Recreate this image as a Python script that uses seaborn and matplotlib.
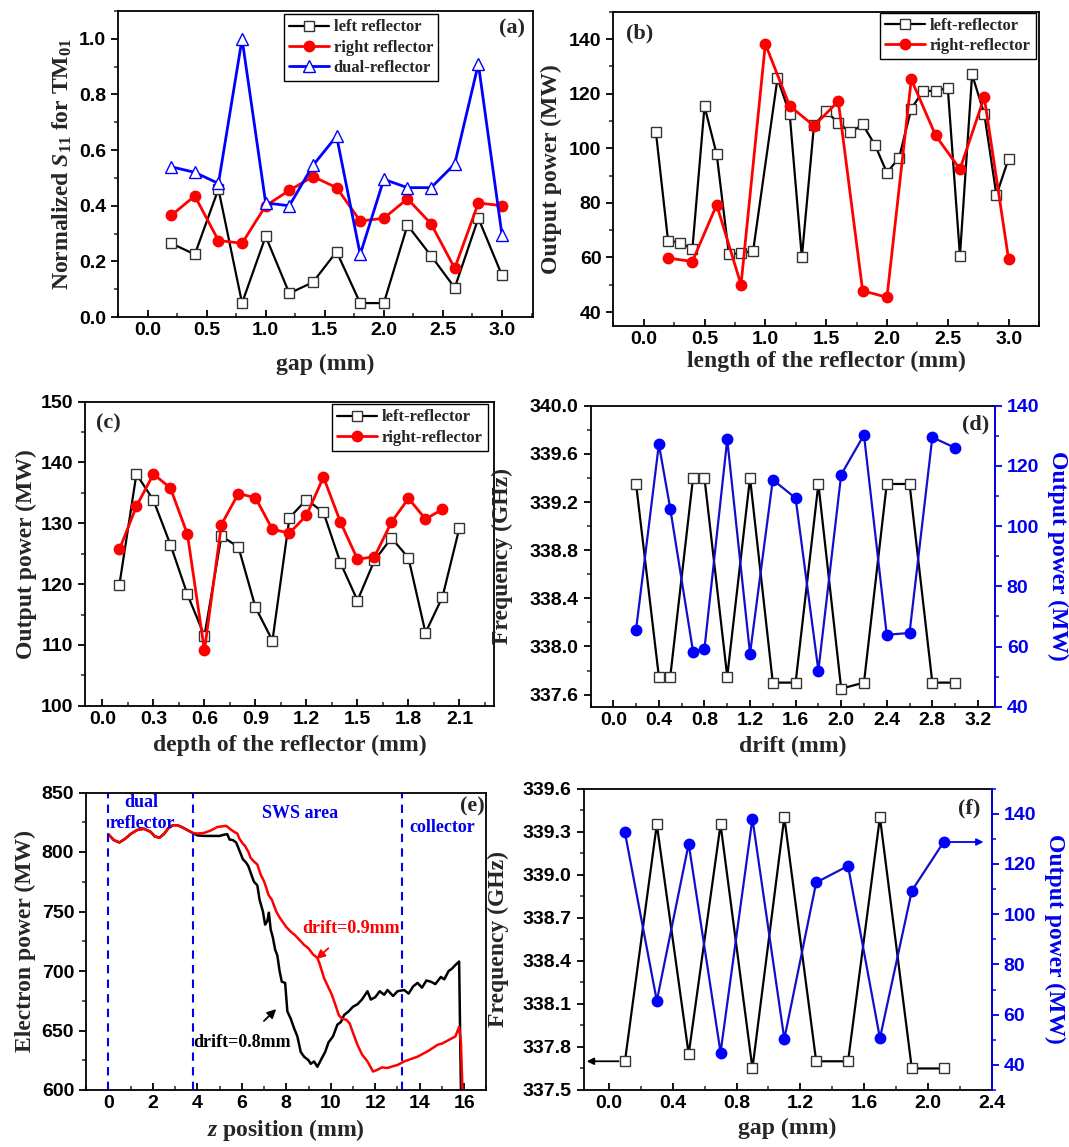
import matplotlib
matplotlib.use("Agg")
import matplotlib.pyplot as plt
from matplotlib.ticker import MultipleLocator, FormatStrFormatter
import seaborn as sns

# ---------------- data ----------------
# (a) normalized S11 vs gap
gap_a = [0.2, 0.4, 0.6, 0.8, 1.0, 1.2, 1.4, 1.6, 1.8, 2.0, 2.2, 2.4, 2.6, 2.8, 3.0]
s11_left = [0.265, 0.225, 0.46, 0.05, 0.29, 0.085, 0.125, 0.235, 0.05, 0.05, 0.33, 0.22, 0.105, 0.355, 0.15]
s11_right = [0.365, 0.435, 0.275, 0.265, 0.40, 0.455, 0.505, 0.465, 0.345, 0.355, 0.425, 0.335, 0.175, 0.41, 0.40]
s11_dual = [0.54, 0.52, 0.48, 1.0, 0.41, 0.40, 0.545, 0.65, 0.225, 0.495, 0.465, 0.465, 0.55, 0.91, 0.295]

# (b) output power vs reflector length
len_left = [0.1, 0.2, 0.3, 0.4, 0.5, 0.6, 0.7, 0.8, 0.9, 1.1, 1.2, 1.3, 1.4, 1.5, 1.6, 1.7, 1.8,
            1.9, 2.0, 2.1, 2.2, 2.3, 2.4, 2.5, 2.6, 2.7, 2.8, 2.9, 3.0]
pow_len_left = [106, 66.2, 65.4, 63, 115.3, 97.8, 61.3, 61.5, 62.5, 125.6, 112.6, 60, 108.4, 113.5,
                109.3, 105.8, 108.7, 101.3, 91, 96.6, 114.5, 121.1, 120.9, 122.1, 60.6, 127, 112.6, 82.8, 96.2]
len_right = [0.2, 0.4, 0.6, 0.8, 1.0, 1.2, 1.4, 1.6, 1.8, 2.0, 2.2, 2.4, 2.6, 2.8, 3.0]
pow_len_right = [59.8, 58.5, 79.3, 50, 138.2, 115.5, 108.2, 117.2, 47.8, 45.4, 125.2, 104.7, 92.3, 118.7, 59.3]

# (c) output power vs reflector depth
depth_left = [0.1, 0.2, 0.3, 0.4, 0.5, 0.6, 0.7, 0.8, 0.9, 1.0, 1.1, 1.2, 1.3, 1.4, 1.5, 1.6, 1.7, 1.8, 1.9, 2.0, 2.1]
pow_depth_left = [119.9, 138.1, 133.8, 126.5, 118.3, 111.5, 127.9, 126.1, 116.2, 110.7, 130.9, 133.9,
                  131.8, 123.5, 117.3, 123.9, 127.6, 124.3, 112, 117.9, 129.3]
depth_right = [0.1, 0.2, 0.3, 0.4, 0.5, 0.6, 0.7, 0.8, 0.9, 1.0, 1.1, 1.2, 1.3, 1.4, 1.5, 1.6, 1.7, 1.8, 1.9, 2.0]
pow_depth_right = [125.7, 132.8, 138.1, 135.8, 128.2, 109.1, 129.8, 134.9, 134.2, 129, 128.4, 131.3,
                   137.6, 130.2, 124.1, 124.5, 130.2, 134.1, 130.7, 132.3]

# (d) frequency / power vs drift
drift = [0.2, 0.4, 0.5, 0.7, 0.8, 1.0, 1.2, 1.4, 1.6, 1.8, 2.0, 2.2, 2.4, 2.6, 2.8, 3.0]
freq_drift = [339.35, 337.75, 337.75, 339.4, 339.4, 337.75, 339.4, 337.70, 337.70, 339.35, 337.65,
              337.70, 339.35, 339.35, 337.70, 337.70]
pow_drift = [65.6, 127.2, 105.8, 58.3, 59.2, 128.8, 57.6, 115.4, 109.3, 52.0, 117.1, 130.3, 63.9, 64.5, 129.5, 126.0]

# (e) electron power along z
z_08 = [0.0, 0.25, 0.5, 0.75, 1.0, 1.3, 1.6, 1.9, 2.1, 2.3, 2.5, 2.7, 2.9, 3.1, 3.3, 3.6, 3.8,
        4.0, 4.3, 4.6, 5.0, 5.2, 5.35, 5.45, 5.6, 5.75, 5.9, 6.05, 6.2, 6.3, 6.45, 6.55, 6.7, 6.8,
        6.95, 7.05, 7.15, 7.22, 7.3, 7.4, 7.5, 7.6, 7.7, 7.8, 7.95, 8.05, 8.2, 8.35, 8.5, 8.65,
        8.8, 9.0, 9.1, 9.25, 9.4, 9.55, 9.75, 9.9, 10.1, 10.3, 10.45, 10.6, 10.8, 11.0, 11.2,
        11.4, 11.65, 11.8, 12.0, 12.2, 12.4, 12.55, 12.8, 13.0, 13.3, 13.5, 13.7, 13.9, 14.1,
        14.3, 14.5, 14.7, 14.95, 15.1, 15.3, 15.45, 15.6, 15.77, 15.85]
p_08 = [815, 810, 808, 811, 815, 818.5, 819.5, 817, 813, 812, 815, 820, 822.5, 822.5, 821, 818, 816,
        814, 813.5, 813.5, 813.5, 814.5, 815, 810.5, 810, 808, 801, 794, 791, 788, 780, 775, 772, 760,
        750, 739, 742, 749, 735, 728, 718, 713, 700, 691, 690, 666, 660, 652, 645, 632,
        628, 625, 622, 624, 619.5, 625, 632, 640, 645, 655, 657, 663, 666, 670, 672,
        676, 683, 676, 678, 683, 680, 684, 679, 683, 684, 681, 687, 690, 686,
        692, 691, 689, 695, 693, 700, 702, 705, 708, 600]
z_09 = [0.0, 0.25, 0.5, 0.75, 1.0, 1.3, 1.6, 1.9, 2.1, 2.3, 2.5, 2.7, 2.9, 3.1, 3.3, 3.6, 3.8,
        4.0, 4.3, 4.6, 4.9, 5.1, 5.3, 5.5, 5.65, 5.8, 5.9, 6.05, 6.15, 6.3, 6.4, 6.55, 6.7, 6.85,
        7.0, 7.1, 7.2, 7.35, 7.45, 7.55, 7.7, 7.85, 8.0, 8.2, 8.4, 8.6, 8.8, 9.0, 9.2, 9.4, 9.5,
        9.7, 9.85, 10.05, 10.2, 10.36, 10.5, 10.7, 10.85, 11.0, 11.2, 11.4, 11.65, 11.9, 12.1,
        12.3, 12.55, 12.8, 13.0, 13.3, 13.6, 13.9, 14.1, 14.4, 14.8, 15.0, 15.2, 15.4, 15.6,
        15.77, 15.85, 15.92]
p_09 = [815, 810, 808, 811, 815, 818.5, 819.5, 817, 813, 812, 815, 820, 822.5, 822.5, 821, 818, 816,
        815.5, 816, 818, 821, 821.5, 822, 819, 817, 815.5, 811, 807, 805, 800, 795, 792, 789.5, 781,
        775.5, 770, 764, 760, 755, 750, 745, 741, 737, 733, 730, 726, 722, 719, 714, 711, 706,
        694, 688, 680, 672, 663, 660, 659, 656, 648, 638, 630, 624, 615.5, 617,
        619, 618.5, 620, 621, 624, 626, 628, 630, 633, 638, 639, 641, 643, 645,
        653, 640, 600]
region_lines = [0.0, 3.8, 13.2]

# (f) frequency / power vs gap
gap_f = [0.1, 0.3, 0.5, 0.7, 0.9, 1.1, 1.3, 1.5, 1.7, 1.9, 2.1]
freq_gap = [337.70, 339.35, 337.75, 339.35, 337.65, 339.40, 337.70, 337.70, 339.40, 337.65, 337.65]
pow_gap = [132.5, 65.5, 128, 44.9, 138, 50.3, 112.6, 119.2, 50.6, 109.3, 128.7]

# ---------------- style ----------------
sns.set_style("ticks")
plt.rcParams["font.family"] = ["Liberation Sans", "DejaVu Sans"]
plt.rcParams["font.weight"] = "bold"
plt.rcParams["mathtext.fontset"] = "custom"
plt.rcParams["mathtext.rm"] = "Liberation Serif:bold"
plt.rcParams["mathtext.it"] = "Liberation Serif:italic:bold"
plt.rcParams["mathtext.bf"] = "Liberation Serif:bold"

BLUE = "#0000ee"
LBL = dict(family="Liberation Serif", weight="bold", size=17)
LEG = dict(family="Liberation Serif", weight="bold", size=12)
TAG = dict(family="Liberation Serif", weight="bold", size=16)
TICK = 14

W, H = 1069, 1147
fig = plt.figure(figsize=(W / 100, H / 100), dpi=100)


def box(l, t, r, b):
    return fig.add_axes([l / W, 1 - b / H, (r - l) / W, (b - t) / H])


def dress(ax, xlim, ylim, xmaj, xmin, ymaj, ymin, xfmt, yfmt):
    ax.set_xlim(*xlim)
    ax.set_ylim(*ylim)
    ax.xaxis.set_major_locator(MultipleLocator(xmaj))
    ax.xaxis.set_minor_locator(MultipleLocator(xmin))
    ax.yaxis.set_major_locator(MultipleLocator(ymaj))
    ax.yaxis.set_minor_locator(MultipleLocator(ymin))
    ax.xaxis.set_major_formatter(FormatStrFormatter(xfmt))
    ax.yaxis.set_major_formatter(FormatStrFormatter(yfmt))
    ax.tick_params(axis="x", which="both", direction="in", top=False, bottom=True)
    ax.tick_params(axis="y", which="both", direction="out", right=False, left=True)
    ax.tick_params(which="major", length=5, width=1.3, labelsize=TICK, colors="black")
    ax.tick_params(which="minor", length=3, width=1.1)
    for sp in ax.spines.values():
        sp.set_visible(True)
        sp.set_linewidth(1.3)
        sp.set_color("black")


def twin_dress(tw, ylim, ymaj, ymin):
    tw.set_ylim(*ylim)
    tw.yaxis.set_major_locator(MultipleLocator(ymaj))
    tw.yaxis.set_minor_locator(MultipleLocator(ymin))
    tw.yaxis.set_major_formatter(FormatStrFormatter("%d"))
    tw.tick_params(axis="y", which="both", direction="out", colors=BLUE, right=True, left=False)
    tw.tick_params(which="major", length=5, width=1.3, labelsize=TICK)
    tw.tick_params(which="minor", length=3, width=1.1)
    for name, sp in tw.spines.items():
        sp.set_visible(name == "right")
    tw.spines["right"].set_color(BLUE)
    tw.spines["right"].set_linewidth(1.3)


def legend(ax, anchor):
    lg = ax.legend(loc="upper right", bbox_to_anchor=anchor, prop=LEG, frameon=True,
                   fancybox=False, edgecolor="black", framealpha=1, handlelength=2.4,
                   labelspacing=0.25, borderpad=0.3, handletextpad=0.3, borderaxespad=0)
    lg.get_frame().set_linewidth(1.0)


sq = dict(marker="s", markersize=7, markerfacecolor="white", markeredgecolor="#333333", markeredgewidth=1.0)
dot_red = dict(marker="o", markersize=7.5, markerfacecolor="red", markeredgecolor="red", markeredgewidth=1.0)
dot_blue = dict(marker="o", markersize=7.5, markerfacecolor="#0000ff", markeredgecolor="#0000ff", markeredgewidth=1.0)

# ---------------- (a) ----------------
ax = box(118, 11, 532.7, 317)
sns.lineplot(x=gap_a, y=s11_left, ax=ax, color="black", linewidth=1.6, label="left reflector", **sq)
sns.lineplot(x=gap_a, y=s11_right, ax=ax, color="red", linewidth=2, label="right reflector", **dot_red)
sns.lineplot(x=gap_a, y=s11_dual, ax=ax, color="#0000ff", linewidth=2, label="dual-reflector",
             marker="^", markersize=8.5, markerfacecolor="white", markeredgecolor="#0000ff", markeredgewidth=1.0)
dress(ax, (-0.25, 3.26), (0, 1.1), 0.5, 0.25, 0.2, 0.1, "%.1f", "%.1f")
ax.set_xlabel("gap (mm)", fontdict=LBL, labelpad=11)
ax.set_ylabel(r"Normalized $S_{11}$ for TM$_{01}$", fontdict=LBL, labelpad=4)
legend(ax, (0.772, 0.989))
ax.text(0.95, 0.942, "(a)", transform=ax.transAxes, ha="center", va="center", fontdict=TAG)

# ---------------- (b) ----------------
ax = box(613.3, 11.7, 1039, 325.7)
sns.lineplot(x=len_left, y=pow_len_left, ax=ax, color="black", linewidth=1.6, label="left-reflector", **sq)
sns.lineplot(x=len_right, y=pow_len_right, ax=ax, color="red", linewidth=2, label="right-reflector", **dot_red)
dress(ax, (-0.25, 3.25), (35, 150), 0.5, 0.25, 20, 10, "%.1f", "%d")
ax.set_xlabel("length of the reflector (mm)", fontdict=LBL, labelpad=2)
ax.set_ylabel("Output power (MW)", fontdict=LBL, labelpad=5)
legend(ax, (0.992, 0.997))
ax.text(0.062, 0.931, "(b)", transform=ax.transAxes, ha="center", va="center", fontdict=TAG)

# ---------------- (c) ----------------
ax = box(85.4, 401.7, 493.5, 705.7)
sns.lineplot(x=depth_left, y=pow_depth_left, ax=ax, color="black", linewidth=1.6, label="left-reflector", **sq)
sns.lineplot(x=depth_right, y=pow_depth_right, ax=ax, color="red", linewidth=2, label="right-reflector", **dot_red)
dress(ax, (-0.1, 2.3), (100, 150), 0.3, 0.15, 10, 5, "%.1f", "%d")
ax.set_xlabel("depth of the reflector (mm)", fontdict=LBL, labelpad=5)
ax.set_ylabel("Output power (MW)", fontdict=LBL, labelpad=3)
legend(ax, (0.986, 0.991))
ax.text(0.056, 0.929, "(c)", transform=ax.transAxes, ha="center", va="center", fontdict=TAG)

# ---------------- (d) ----------------
ax = box(590.5, 405.7, 995, 706.7)
sns.lineplot(x=drift, y=freq_drift, ax=ax, color="black", linewidth=1.6, **sq)
dress(ax, (-0.2, 3.35), (337.5, 340.0), 0.4, 0.2, 0.4, 0.2, "%.1f", "%.1f")
ax.set_xlabel("drift (mm)", fontdict=LBL, labelpad=5)
ax.set_ylabel("Frequency (GHz)", fontdict=LBL, labelpad=12)
tw = ax.twinx()
sns.lineplot(x=drift, y=pow_drift, ax=tw, color="#1010cc", linewidth=1.6, **dot_blue)
twin_dress(tw, (40, 140), 20, 10)
tw.set_ylabel("Output power (MW)", fontdict=LBL, color=BLUE, rotation=270, labelpad=21)
ax.text(0.953, 0.936, "(d)", transform=ax.transAxes, ha="center", va="center", fontdict=TAG)

# ---------------- (e) ----------------
ax = box(86, 792.5, 486.5, 1090)
sns.lineplot(x=z_08, y=p_08, ax=ax, color="black", linewidth=1.8)
sns.lineplot(x=z_09, y=p_09, ax=ax, color="red", linewidth=1.8)
for zl in region_lines:
    ax.axvline(zl, color=BLUE, linestyle=(0, (4, 3)), linewidth=1.5)
dress(ax, (-1, 17), (600, 850), 2, 1, 50, 25, "%d", "%d")
ax.set_xlabel(r"$z$ position (mm)", fontdict=LBL, labelpad=4)
ax.set_ylabel("Electron power (MW)", fontdict=LBL, labelpad=4)
anno = dict(family="Liberation Serif", weight="bold", size=13)
ax.text(1.5, 842, "dual", color=BLUE, ha="center", va="center", fontdict=anno)
ax.text(1.55, 824, "reflector", color=BLUE, ha="center", va="center", fontdict=anno)
ax.text(8.6, 832, "SWS area", color=BLUE, ha="center", va="center", fontdict=anno)
ax.text(15.0, 821, "collector", color=BLUE, ha="center", va="center", fontdict=anno)
ax.annotate("drift=0.9mm", xy=(9.35, 710), xytext=(10.9, 736), color="red", ha="center", va="center",
            fontsize=13, family="Liberation Serif", weight="bold",
            arrowprops=dict(arrowstyle="-|>", color="red", lw=1.3, shrinkA=9, shrinkB=0))
ax.annotate("drift=0.8mm", xy=(7.55, 668), xytext=(6.0, 640), color="black", ha="center", va="center",
            fontsize=13, family="Liberation Serif", weight="bold",
            arrowprops=dict(arrowstyle="-|>", color="black", lw=1.3, shrinkA=10, shrinkB=0))
ax.text(0.964, 0.952, "(e)", transform=ax.transAxes, ha="center", va="center", fontdict=TAG)

# ---------------- (f) ----------------
ax = box(583.5, 788.5, 991.5, 1090)
sns.lineplot(x=gap_f, y=freq_gap, ax=ax, color="black", linewidth=1.6, **sq)
dress(ax, (-0.16, 2.4), (337.5, 339.6), 0.4, 0.2, 0.3, 0.15, "%.1f", "%.1f")
ax.set_xlabel("gap (mm)", fontdict=LBL, labelpad=4)
ax.set_ylabel("Frequency (GHz)", fontdict=LBL, labelpad=10)
ax.annotate("", xy=(-0.14, freq_gap[0]), xytext=(0.06, freq_gap[0]),
            arrowprops=dict(arrowstyle="-|>", color="black", lw=1.3, shrinkA=0, shrinkB=0))
tw = ax.twinx()
sns.lineplot(x=gap_f, y=pow_gap, ax=tw, color="#1010cc", linewidth=1.6, **dot_blue)
twin_dress(tw, (30, 150), 20, 10)
tw.set_ylabel("Output power (MW)", fontdict=LBL, color=BLUE, rotation=270, labelpad=21)
tw.annotate("", xy=(2.35, pow_gap[-1]), xytext=(2.14, pow_gap[-1]),
            arrowprops=dict(arrowstyle="-|>", color=BLUE, lw=1.3, shrinkA=0, shrinkB=0))
ax.text(0.945, 0.934, "(f)", transform=ax.transAxes, ha="center", va="center", fontdict=TAG)

fig.savefig("out.png", dpi=100)
